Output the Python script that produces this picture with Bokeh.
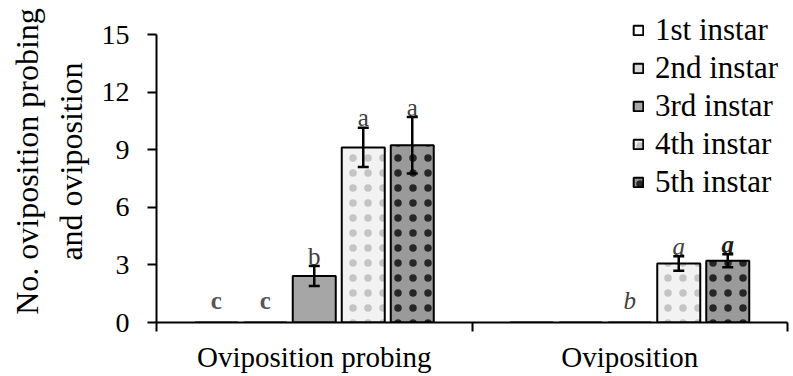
import numpy as np
from bokeh.plotting import figure
from bokeh.models import ColumnDataSource, Range1d, FixedTicker, Whisker, TeeHead, Legend, LegendItem
from bokeh.transform import dodge
from bokeh.core.properties import value
from bokeh.embed import file_html
from bokeh.resources import INLINE

# ---------------- data ----------------
categories = ["Oviposition probing", "Oviposition"]
instars = ["1st instar", "2nd instar", "3rd instar", "4th instar", "5th instar"]
mean_1st = [0.0, 0.0]
mean_2nd = [0.0, 0.0]
mean_3rd = [2.42, 0.0]
mean_4th = [9.12, 3.07]
mean_5th = [9.23, 3.22]
se_1st = [0.0, 0.0]
se_2nd = [0.0, 0.0]
se_3rd = [0.52, 0.0]
se_4th = [1.02, 0.38]
se_5th = [1.47, 0.34]
letters_1st = ["c", ""]
letters_2nd = ["c", ""]
letters_3rd = ["b", "b"]
letters_4th = ["a", "a"]
letters_5th = ["a", "a"]
y_ticks = [0, 3, 6, 9, 12, 15]
y_max = 15
y_label = "No. oviposition probing\nand oviposition"

means = [mean_1st, mean_2nd, mean_3rd, mean_4th, mean_5th]
ses = [se_1st, se_2nd, se_3rd, se_4th, se_5th]
letters = [letters_1st, letters_2nd, letters_3rd, letters_4th, letters_5th]

# ---------------- styles ----------------
SERIF = "Liberation Serif"
fills = ["#ffffff", "#d9d9d9", "#a6a6a6", "#f2f2f2", "#9a9a9a"]
hatches = [None, None, None, "dot", "dot"]
hatch_colors = [None, None, None, "#c4c4c4", "#262626"]
letter_styles = [["bold", "normal"], ["bold", "normal"], ["normal", "italic"],
                 ["normal", "italic"], ["normal", "bold italic"]]
letter_colors = [["#555555", "#555555"], ["#555555", "#555555"], ["#404040", "#404040"],
                 ["#404040", "#404040"], ["#404040", "#202020"]]
FW, FH = 631, 322          # frame size in px
cat_px = FW / len(categories)
step = 49 / cat_px
bar_w = 43 / cat_px
y_end = y_max * FH / 288   # axis value 15 sits 34 px below the top

p = figure(frame_width=FW, frame_height=FH, min_border_left=156, min_border_right=6,
           min_border_top=0, min_border_bottom=54, output_backend="svg",
           toolbar_location=None, x_range=Range1d(0, len(categories)), y_range=Range1d(0, y_end))
p.outline_line_color = None
p.xgrid.visible = False
p.ygrid.visible = False
p.background_fill_color = "white"

xc = np.arange(len(categories)) + 0.5
legend_items = []
for i, name in enumerate(instars):
    off = (i - 2) * step
    m = np.array(means[i]); s = np.array(ses[i])
    src = ColumnDataSource(dict(x=xc, top=m, upper=m + s, lower=m - s,
                                letter=letters[i], lab_y=m + s,
                                yoff=np.where(m == 0, -22, -10),
                                fstyle=letter_styles[i], fcolor=letter_colors[i]))
    kw = dict(fill_color=fills[i], line_color="black", line_width=2)
    if hatches[i]:
        kw.update(hatch_pattern=hatches[i], hatch_color=hatch_colors[i], hatch_scale=15, hatch_weight=1)
    r = p.vbar(x=dodge("x", off), top="top", width=bar_w, bottom=0, source=src, **kw)
    legend_items.append(LegendItem(label=name, renderers=[r]))
    keep = s > 0
    if keep.any():
        wsrc = ColumnDataSource(dict(x=xc[keep], upper=(m + s)[keep], lower=(m - s)[keep]))
        w = Whisker(source=wsrc, base=dodge("x", off), upper="upper", lower="lower",
                    line_width=2.5, line_color="black", level="annotation",
                    upper_head=TeeHead(size=11, line_width=2.5, line_color="black"),
                    lower_head=TeeHead(size=11, line_width=2.5, line_color="black"))
        p.add_layout(w)
    p.text(x=dodge("x", off), y="lab_y", text="letter", source=src, y_offset="yoff",
           text_font=value(SERIF), text_font_size="25px", text_align="center",
           text_baseline="alphabetic", text_font_style="fstyle", text_color="fcolor")

# y axis
ya = p.yaxis[0]
ya.bounds = (0, y_max)
ya.ticker = FixedTicker(ticks=y_ticks)
ya.axis_label = y_label
ya.axis_label_text_font = SERIF
ya.axis_label_text_font_size = "32px"
ya.axis_label_text_font_style = "normal"
ya.axis_label_text_color = "black"
ya.axis_label_standoff = 10
ya.major_label_text_font = SERIF
ya.major_label_text_font_size = "28px"
ya.major_label_text_color = "black"
ya.major_label_standoff = 18
ya.major_tick_out = 9
ya.major_tick_in = 0
ya.minor_tick_line_color = None
ya.axis_line_width = 2
ya.axis_line_color = "black"
ya.major_tick_line_width = 2
ya.major_tick_line_color = "black"

# x axis
xa = p.xaxis[0]
xa.ticker = FixedTicker(ticks=list(xc), minor_ticks=list(range(len(categories) + 1)))
xa.major_label_overrides = {float(v): c for v, c in zip(xc, categories)}
xa.major_label_text_font = SERIF
xa.major_label_text_font_size = "29px"
xa.major_label_text_color = "black"
xa.major_label_standoff = 9
xa.major_tick_line_color = None
xa.major_tick_out = 0
xa.minor_tick_out = 9
xa.minor_tick_in = 0
xa.minor_tick_line_color = "black"
xa.minor_tick_line_width = 2
xa.axis_line_width = 2
xa.axis_line_color = "black"

legend = Legend(items=legend_items, location=(476, 121), glyph_width=12, glyph_height=12,
                label_height=38, spacing=0, padding=0, margin=0, label_standoff=11,
                label_text_font=SERIF, label_text_font_size="31px", label_text_color="black",
                border_line_color=None, background_fill_alpha=0)
p.add_layout(legend)

open("out.html", "w").write(file_html(p, INLINE))
